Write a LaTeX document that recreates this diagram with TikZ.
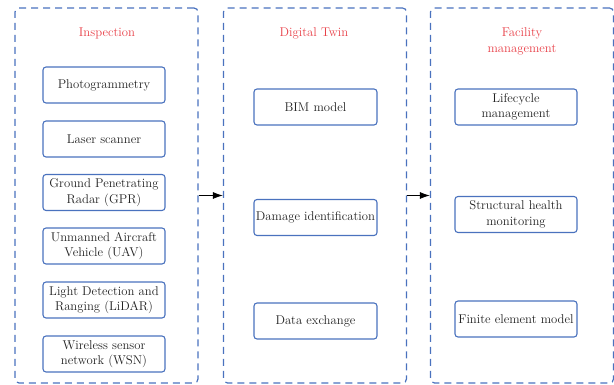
\documentclass[tikz,border=0pt]{standalone}
\usetikzlibrary{arrows.meta}
\definecolor{frameblue}{RGB}{74,114,190}
\definecolor{titlered}{RGB}{232,64,72}
\definecolor{bodytext}{RGB}{35,35,35}
\tikzset{
  container/.style={draw=frameblue, line width=1.2pt, dash pattern=on 7pt off 5pt,
    rounded corners=4pt, minimum width=183pt, minimum height=375pt, inner sep=0pt},
  itembox/.style={draw=frameblue, line width=1.1pt, rounded corners=3pt, fill=white,
    minimum width=122pt, minimum height=36pt, inner sep=1pt, align=center,
    text=bodytext, font=\fontsize{12.7}{15.5}\selectfont},
  grouptitle/.style={text=titlered, align=center, font=\fontsize{12.7}{16}\selectfont},
  flow/.style={draw=black, line width=1pt, -{Latex[length=10pt,width=7pt]}}
}
\begin{document}
\begin{tikzpicture}[x=1pt,y=-1pt]
\useasboundingbox (0,0) rectangle (614,385);

% group frames
\node[container] (insp) at (106.5,195.5) {};
\node[container] (twin) at (315,195.5) {};
\node[container] (fm)   at (522,195.5) {};

% group titles
\node[grouptitle] (tinsp) at (107,33) {Inspection};
\node[grouptitle] (ttwin) at (314,33) {Digital Twin};
\node[grouptitle] (tfm)   at (522,41.5) {Facility\\management};

% inspection methods
\node[itembox] (photo) at (104,85)    {Photogrammetry};
\node[itembox] (laser) at (104,139)   {Laser scanner};
\node[itembox] (gpr)   at (104,192.5) {Ground Penetrating\\Radar (GPR)};
\node[itembox] (uav)   at (104,246)   {Unmanned Aircraft\\Vehicle (UAV)};
\node[itembox] (lidar) at (104,300)   {Light Detection and\\Ranging (LiDAR)};
\node[itembox] (wsn)   at (104,354)   {Wireless sensor\\network (WSN)};

% digital twin components
\node[itembox, minimum width=123pt] (bim)  at (315.5,107)   {BIM model};
\node[itembox, minimum width=123pt] (dmg)  at (315.5,217.5) {Damage identification};
\node[itembox, minimum width=123pt] (data) at (315.5,321)   {Data exchange};

% facility management tasks
\node[itembox] (life)   at (516,107)   {Lifecycle\\management};
\node[itembox] (shm)    at (516,214.5) {Structural health\\monitoring};
\node[itembox] (finite) at (516,319)   {Finite element model};

% flow between groups
\draw[flow] (insp.east) -- (twin.west);
\draw[flow] (twin.east) -- (fm.west);
\end{tikzpicture}
\end{document}
